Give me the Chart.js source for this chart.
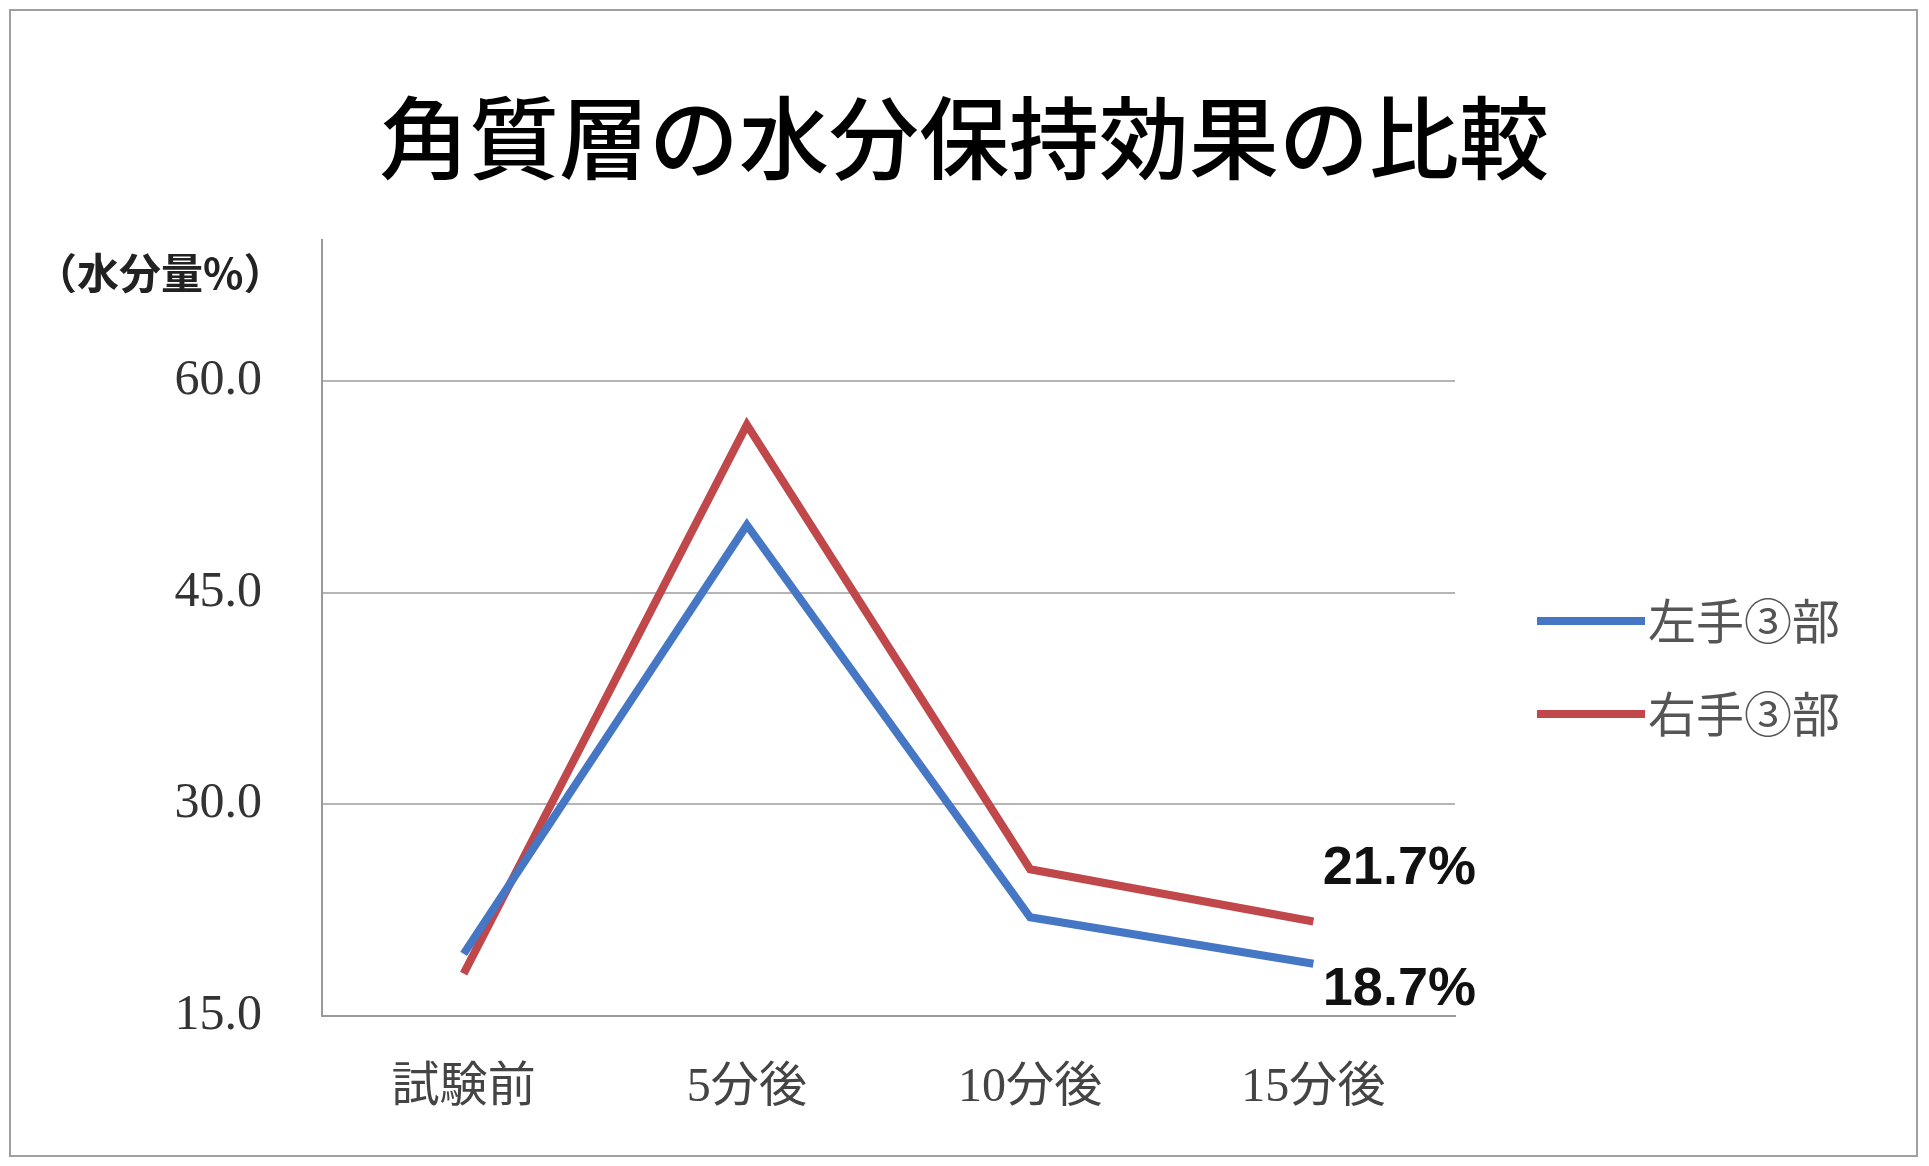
<!DOCTYPE html>
<html><head><meta charset="utf-8">
<script src="https://cdn.jsdelivr.net/npm/chart.js@4"></script>
<style>html,body{margin:0;padding:0;background:#fff;overflow:hidden}#w{width:1929px;height:1166px;position:relative}</style>
</head><body><div id="w"><canvas id="c" width="1929" height="1166"></canvas></div>
<script>
const categories = ['試験前','5分後','10分後','15分後'];
const leftHand = [19.4, 49.8, 22.0, 18.7];
const rightHand = [18.0, 56.9, 25.4, 21.7];
const seriesNames = ['左手③部','右手③部'];
const yTicks = [15, 30, 45, 60];
const chartTitle = '角質層の水分保持効果の比較';
const yUnit = '（水分量%）';
const endLabels = ['18.7%','21.7%'];

const JP = '"Noto Sans CJK JP", sans-serif';
const deco = {
  id:'deco',
  beforeDraw(ch){
    const c=ch.ctx; c.save();
    c.fillStyle='#fff'; c.fillRect(0,0,ch.width,ch.height);
    c.strokeStyle='#a0a0a0'; c.lineWidth=2; c.strokeRect(10,10,1907,1146);
    c.restore();
  },
  afterDraw(ch){
    const c=ch.ctx; c.save();
    c.fillStyle='#000'; c.textAlign='center'; c.textBaseline='middle';
    c.font='500 90px '+JP; c.fillText(chartTitle, 964, 138);
    c.font='bold 42px '+JP; c.textAlign='left'; c.fillStyle='#222'; c.fillText(yUnit, 35, 273);
    const cols=['#4577c4','#c0474a'];
    [0,1].forEach(i=>{
      const y=621+i*93;
      c.strokeStyle=cols[i]; c.lineWidth=8; c.beginPath(); c.moveTo(1537,y); c.lineTo(1645,y); c.stroke();
      c.fillStyle='#555'; c.font='48px '+JP; c.textAlign='left'; c.fillText(seriesNames[i],1648,y);
    });
    const x=ch.scales.x, yS=ch.scales.y;
    c.fillStyle='#111'; c.font='bold 54px "Liberation Sans", sans-serif'; c.textAlign='center';
    c.fillText(endLabels[1], x.getPixelForValue(3)+86, yS.getPixelForValue(rightHand[3])-52);
    c.fillText(endLabels[0], x.getPixelForValue(3)+86, yS.getPixelForValue(leftHand[3])+26);
    c.restore();
  }
};
new Chart(document.getElementById('c'),{
  type:'line',
  data:{labels:categories,datasets:[
    {label:seriesNames[0],data:leftHand,borderColor:'#4577c4',borderWidth:8,pointRadius:0,tension:0,fill:false},
    {label:seriesNames[1],data:rightHand,borderColor:'#c0474a',borderWidth:8,pointRadius:0,tension:0,fill:false}
  ]},
  options:{responsive:false,animation:false,
    layout:{padding:{left:0,right:474,top:240,bottom:0}},
    plugins:{legend:{display:false},tooltip:{enabled:false}},
    scales:{
      x:{offset:true,grid:{display:false},border:{color:'#999',width:2},
        ticks:{color:'#444',font:{size:48,family:'"Liberation Serif", '+JP},padding:36},
        afterFit(s){s.height=150;}},
      y:{min:15,max:70,afterBuildTicks(s){s.ticks=yTicks.map(v=>({value:v}));},
        grid:{color:'#b5b5b5',lineWidth:2,drawTicks:false},border:{color:'#999',width:2},
        ticks:{color:'#333',font:{size:50,family:'"Liberation Serif", serif'},padding:60,callback:v=>v.toFixed(1)},
        afterFit(s){s.width=322;}}
    }
  },
  plugins:[deco]
});
</script></body></html>
